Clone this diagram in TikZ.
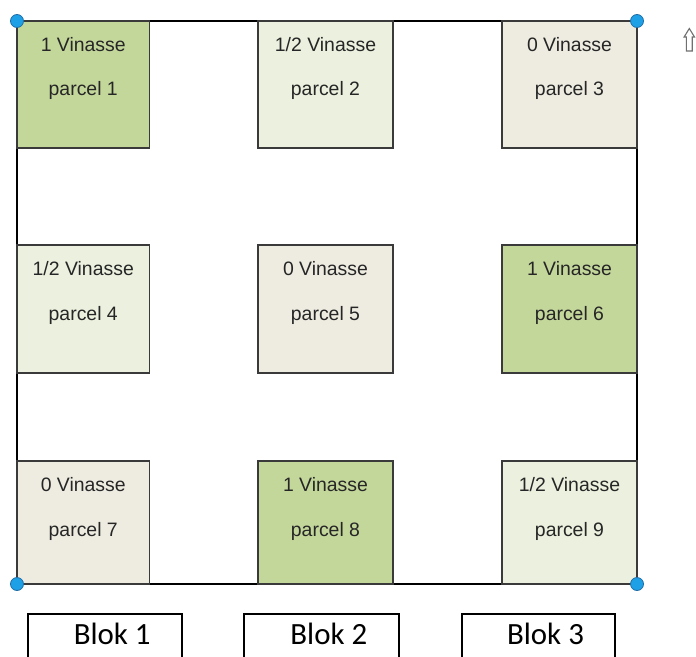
\documentclass[tikz,border=0pt]{standalone}
\usepackage{fontspec}
\setmainfont{Liberation Sans}
\newfontfamily\blokfont{Carlito}
\usetikzlibrary{calc}
\definecolor{dkgreen}{HTML}{C4D79B}
\definecolor{ltgreen}{HTML}{EBF1DE}
\definecolor{beige}{HTML}{EEECE1}
\definecolor{sqline}{HTML}{3A3A3A}
\definecolor{txt}{HTML}{262626}
\definecolor{dotblue}{HTML}{1EA0E6}
\definecolor{dotedge}{HTML}{1F6EA8}
\definecolor{arrowgray}{HTML}{707070}
\begin{document}
\begin{tikzpicture}[x=1bp,y=-1bp,
  sq/.style={draw=sqline, line width=1.4bp, inner sep=0pt, outer sep=0pt,
             minimum width=#1bp},
  lab/.style={text=txt, font=\fontsize{19.5}{20}\selectfont, anchor=base, inner sep=0pt},
  dot/.style={circle, fill=dotblue, draw=dotedge, line width=0.8bp,
              minimum size=13bp, inner sep=0pt},
  frame/.style={draw=black, line width=1.2bp},
  blokbox/.style={draw=black, line width=1.8bp, minimum width=#1bp,
                  minimum height=90bp, anchor=north, inner sep=0pt},
  bloktext/.style={font=\blokfont\fontsize{31}{32}\selectfont, anchor=base, inner sep=0pt},
  uparrow/.style={draw=arrowgray, line width=1.1bp, fill=white, line join=miter}]
\useasboundingbox (0,0) rectangle (696,657);
\clip (0,0) rectangle (696,657);
\fill[white] (0,0) rectangle (696,657);

% corner coordinates and outer frame
\coordinate (k1) at (17,21);
\coordinate (k2) at (637,21);
\coordinate (k3) at (17,584);
\coordinate (k4) at (637,584);
\draw[frame] (k1) -- (k2) -- (k4) -- (k3) -- cycle;

% parcels: row 1
\node[sq=132.5, minimum height=127bp, fill=dkgreen] (p1) at (83.25,84.5) {};
\node[sq=135,   minimum height=127bp, fill=ltgreen] (p2) at (325.5,84.5) {};
\node[sq=135,   minimum height=127bp, fill=beige]   (p3) at (569.5,84.5) {};
% row 2
\node[sq=132.5, minimum height=128bp, fill=ltgreen] (p4) at (83.25,309) {};
\node[sq=135,   minimum height=128bp, fill=beige]   (p5) at (325.5,309) {};
\node[sq=135,   minimum height=128bp, fill=dkgreen] (p6) at (569.5,309) {};
% row 3
\node[sq=132.5, minimum height=123bp, fill=beige]   (p7) at (83.25,522.5) {};
\node[sq=135,   minimum height=123bp, fill=dkgreen] (p8) at (325.5,522.5) {};
\node[sq=135,   minimum height=123bp, fill=ltgreen] (p9) at (569.5,522.5) {};

% labels
\foreach \p/\v/\n in {p1/1/1, p2/1\slash 2/2, p3/0/3,
                      p4/1\slash 2/4, p5/0/5, p6/1/6,
                      p7/0/7, p8/1/8, p9/1\slash 2/9}{
  \node[lab] (\p a) at ($(\p.north)+(0,30.5)$) {\v\ Vinasse};
  \node[lab] (\p b) at ($(\p.north)+(0,75)$) {parcel \n};
}

% corner dots
\foreach \k in {k1,k2,k3,k4}{
  \node[dot] (\k d) at (\k) {};
}

% north arrow
\draw[uparrow] (689.3,28.5) -- (694.5,37) -- (692.2,37) -- (692.2,51)
  -- (686.4,51) -- (686.4,37) -- (684.1,37) -- cycle;

% blocks
\node[blokbox=153.7] (b1) at (105.2,612.7) {};
\node[blokbox=155]   (b2) at (321.8,612.7) {};
\node[blokbox=153]   (b3) at (538.5,612.7) {};
\node[bloktext] (t1) at ($(b1.north |- 0,644)+(7,0)$) {Blok 1};
\node[bloktext] (t2) at ($(b2.north |- 0,644)+(7,0)$) {Blok 2};
\node[bloktext] (t3) at ($(b3.north |- 0,644)+(7,0)$) {Blok 3};
\end{tikzpicture}
\end{document}
